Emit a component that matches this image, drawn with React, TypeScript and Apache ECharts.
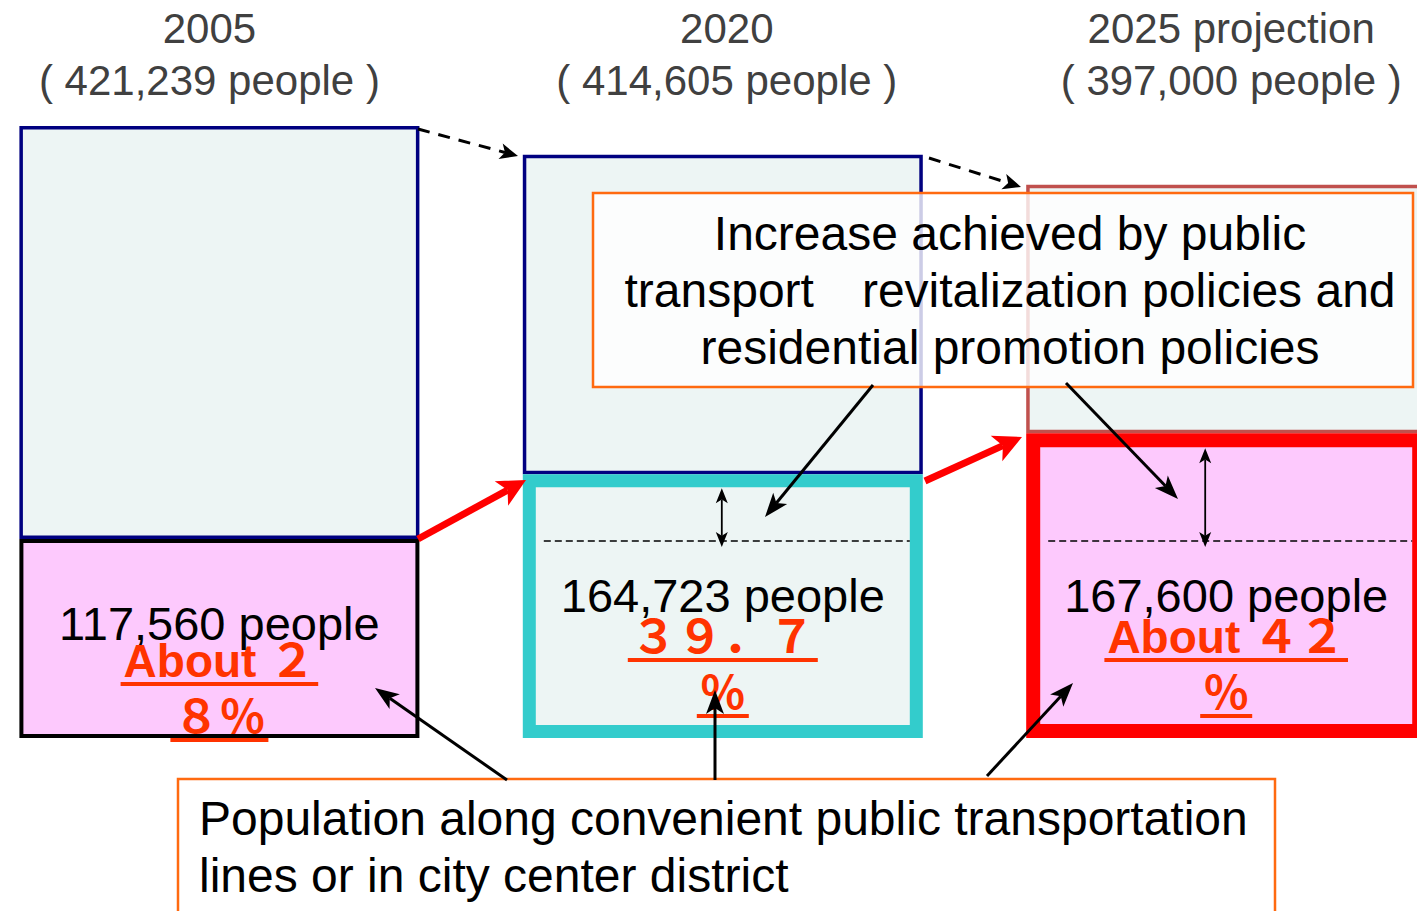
import React, { useEffect, useRef } from 'react';
import * as echarts from 'echarts';

// ---- data ----
const categories = ['2005', '2020', '2025 projection'];
const totalPopulation = [421239, 414605, 397000];
const transitPopulation = [117560, 164723, 167600];
const shareLines = [
  ['About ２', '８％'],
  ['３９．７', '％'],
  ['About ４２', '％'],
];
// Bar heights as drawn in the schematic figure (index, 2005 total = 100)
const barTotal = [100, 95.3, 90.4];
const barTransit = [32.5, 43.1, 49.8];

const upperNote = [
  'Increase achieved by public',
  'transport\u3000revitalization policies and',
  'residential promotion policies',
];
const lowerNote = [
  'Population along convenient public transportation',
  'lines or in city center district',
];

// ---- styles ----
const FONT = '"Liberation Sans", Arial, "Noto Sans CJK JP", sans-serif';
const RED_TEXT = '#ff3300';
const ORANGE = '#ff6a10';
const BAR_WIDTH = 400;
const upperStyle = [
  { color: '#edf5f4', borderColor: '#000080', borderWidth: 3.5 },
  { color: '#edf5f4', borderColor: '#000080', borderWidth: 3.5 },
  { color: '#edf5f4', borderColor: '#c0504d', borderWidth: 3.5 },
];
const lowerStyle = [
  { color: '#fdc9fd', borderColor: '#000000', borderWidth: 4 },
  { color: '#edf5f4', borderColor: '#33cccc', borderWidth: 13 },
  { color: '#fdc9fd', borderColor: '#ff0000', borderWidth: 14 },
];
const blackLift = [0, 28, 28];
const redLift = [0, 24, 24];
const arrowShift = [0, -1, -21];
const headerPad = [
  [0, 20, 0, 0],
  [0, 0, 0, 8],
  [0, 0, 0, 10],
];

let measureCtx: CanvasRenderingContext2D | null = null;
function measure(text: string, font: string): number {
  if (!measureCtx) measureCtx = document.createElement('canvas').getContext('2d');
  if (!measureCtx) return text.length * 30;
  measureCtx.font = font;
  return measureCtx.measureText(text).width;
}

function txt(text: string, x: number, y: number, font: string, fill: string, align = 'center', extra: any = {}) {
  return {
    type: 'text',
    style: {
      text, x, y, font, fill,
      align, verticalAlign: 'middle',
      textAlign: align, textVerticalAlign: 'middle',
      ...extra,
    },
  };
}

function arrowHead(x0: number, y0: number, x1: number, y1: number, head: number, headW: number, color: string, z?: number) {
  const len = Math.hypot(x1 - x0, y1 - y0);
  const ux = (x1 - x0) / len, uy = (y1 - y0) / len;
  const nx = -uy, ny = ux;
  const bx = x1 - ux * head, by = y1 - uy * head;
  const kx = x1 - ux * head * 0.75, ky = y1 - uy * head * 0.75;
  const el: any = {
    type: 'polygon',
    shape: { points: [[x1, y1], [bx + nx * headW / 2, by + ny * headW / 2], [kx, ky], [bx - nx * headW / 2, by - ny * headW / 2]] },
    style: { fill: color },
  };
  if (z !== undefined) el.z = z;
  return { el, kx, ky };
}

function arrow(x0: number, y0: number, x1: number, y1: number, opts: any = {}) {
  const color = opts.color || '#000';
  const width = opts.width || 3;
  const head = opts.head || 22;
  const headW = opts.headW || 18;
  const z = opts.z || 100;
  const h = arrowHead(x0, y0, x1, y1, head, headW, color, z);
  const lineStyle: any = { stroke: color, lineWidth: width };
  if (opts.dash) lineStyle.lineDash = opts.dash;
  return [
    { type: 'line', z, shape: { x1: x0, y1: y0, x2: h.kx, y2: h.ky }, style: lineStyle },
    h.el,
  ];
}

const fmt = (n: number) => n.toLocaleString('en-US');

export default function App() {
  const ref = useRef<HTMLDivElement>(null);
  useEffect(() => {
    if (!ref.current) return;
    const chart = echarts.init(ref.current, undefined, { renderer: 'svg' });

    const rich: any = {};
    headerPad.forEach((p, i) => {
      rich['h' + i] = { fontSize: 42, lineHeight: 52, color: '#404040', fontFamily: FONT, padding: p };
    });

    const blackFont = `47px ${FONT}`;
    const redFont = `bold 46px ${FONT}`;

    const renderOverlay = (params: any, api: any) => {
      const i = api.value(0);
      const lvl = api.value(1);
      const p0 = api.coord([i, 0]);
      const cx = p0[0], y0 = p0[1];
      const yTop = api.coord([i, lvl])[1];
      const yBase = api.coord([i, barTransit[0]])[1] + lowerStyle[0].borderWidth / 2;
      const half = BAR_WIDTH / 2;
      const children: any[] = [];
      if (lvl > barTransit[0]) {
        const bw = lowerStyle[i].borderWidth;
        children.push({
          type: 'line',
          shape: { x1: cx - half + bw + 8, y1: yBase, x2: cx + half - bw, y2: yBase },
          style: { stroke: '#000', lineWidth: 1.5, lineDash: [7, 4] },
        });
        const ax = cx + arrowShift[i];
        const ya = yTop + bw + 1, yb = yBase + 6;
        const h1 = arrowHead(ax, yb, ax, ya, 15, 12, '#000');
        const h2 = arrowHead(ax, ya, ax, yb, 15, 12, '#000');
        children.push({ type: 'line', shape: { x1: ax, y1: h1.ky, x2: ax, y2: h2.ky }, style: { stroke: '#000', lineWidth: 1.8 } });
        children.push(h1.el, h2.el);
      }
      const bBlack = y0 - 98 - blackLift[i];
      const bRed1 = y0 - 61 - redLift[i];
      const bRed2 = y0 - 5 - redLift[i];
      children.push(txt(`${fmt(transitPopulation[i])} people`, cx, bBlack - 0.35 * 47, blackFont, '#000'));
      const lines = shareLines[i];
      [bRed1, bRed2].forEach((b, k) => {
        const t = lines[k];
        children.push(txt(t, cx, b - 0.35 * 46, redFont, RED_TEXT));
        const w = measure(t, redFont) + 6;
        children.push({ type: 'rect', shape: { x: cx - w / 2, y: b + 5, width: w, height: 4 }, style: { fill: RED_TEXT } });
      });
      return { type: 'group', children };
    };

    const graphics: any[] = [
      {
        type: 'rect', z: 50,
        shape: { x: 593, y: 193, width: 820, height: 194 },
        style: { fill: 'rgba(255,255,255,0.8)', stroke: ORANGE, lineWidth: 2.5 },
      },
      { ...txt(upperNote.join('\n'), 1010, 290, `48px ${FONT}`, '#000', 'center', { lineHeight: 57 }), z: 51 },
      {
        type: 'rect', z: 50,
        shape: { x: 178, y: 779, width: 1097, height: 200 },
        style: { fill: '#ffffff', stroke: ORANGE, lineWidth: 2.5 },
      },
      { ...txt(lowerNote.join('\n'), 199, 847, `48px ${FONT}`, '#000', 'left', { lineHeight: 57 }), z: 51 },
      ...arrow(418, 129, 518, 156, { dash: [12, 9], head: 18, headW: 16 }),
      ...arrow(929, 158, 1021, 187, { dash: [12, 9], head: 18, headW: 16 }),
      ...arrow(418, 539, 526, 480, { color: '#ff0000', width: 7, head: 28, headW: 28 }),
      ...arrow(925, 481, 1022, 437, { color: '#ff0000', width: 7, head: 28, headW: 28 }),
      ...arrow(873, 385, 765, 517, { head: 24, headW: 18 }),
      ...arrow(1066, 383, 1178, 499, { head: 24, headW: 18 }),
      ...arrow(507, 780, 375, 688, { head: 24, headW: 18 }),
      ...arrow(715, 780, 715, 690, { head: 24, headW: 18 }),
      ...arrow(987, 776, 1073, 683, { head: 24, headW: 18 }),
    ];

    chart.setOption({
      animation: false,
      backgroundColor: '#ffffff',
      grid: { left: -32.3, width: 1510.2, top: 126, height: 612, containLabel: false, outerBoundsMode: 'none' },
      xAxis: {
        type: 'category',
        data: categories,
        position: 'top',
        axisLine: { show: false },
        axisTick: { show: false },
        splitLine: { show: false },
        axisLabel: {
          interval: 0,
          margin: 20,
          formatter: (v: string, idx: number) =>
            `{h${idx}|${v}}\n{h${idx}|( ${fmt(totalPopulation[idx])} people )}`,
          rich,
        },
      },
      yAxis: { type: 'value', min: 0, max: 100, show: false },
      series: [
        {
          name: 'transit',
          type: 'bar',
          stack: 'pop',
          barWidth: BAR_WIDTH,
          z: 3,
          data: barTransit.map((v, i) => ({ value: v, itemStyle: lowerStyle[i] })),
        },
        {
          name: 'other',
          type: 'bar',
          stack: 'pop',
          barWidth: BAR_WIDTH,
          z: 2,
          data: barTotal.map((v, i) => ({ value: +(v - barTransit[i]).toFixed(2), itemStyle: upperStyle[i] })),
        },
        {
          name: 'overlay',
          type: 'custom',
          z: 5,
          silent: true,
          renderItem: renderOverlay,
          data: barTransit.map((v, i) => [i, v]),
        },
      ],
      graphic: graphics,
    });
    return () => chart.dispose();
  }, []);
  return <div ref={ref} style={{ position: 'fixed', left: 0, top: 0, width: 1417, height: 911 }} />;
}
